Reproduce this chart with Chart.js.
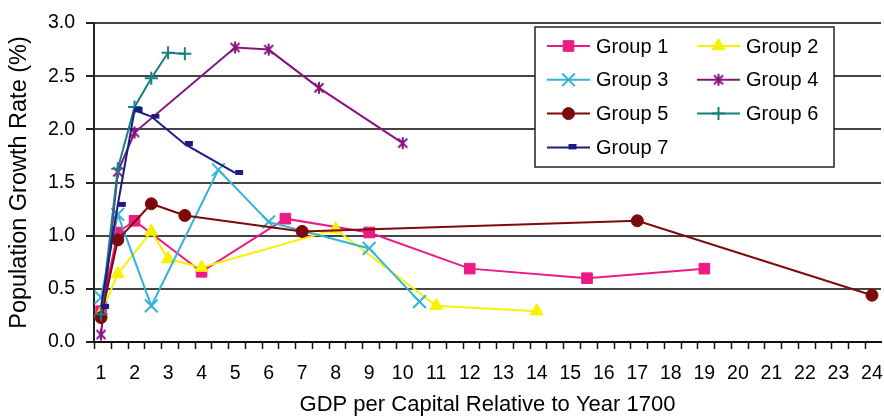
<!DOCTYPE html>
<html>
<head>
<meta charset="utf-8">
<title>Population growth and GDP per capita</title>
<script src="https://cdn.jsdelivr.net/npm/chart.js@4.4.1/dist/chart.umd.min.js"></script>
<style>
  html, body { margin: 0; padding: 0; background: #fff; }
  #growthChart { display: block; }
</style>
</head>
<body>
<canvas id="growthChart" width="884" height="416"></canvas>
<script>
// GDP per capita relative to 1700 (x) against population growth rate in % (y)
const seriesNames = ['Group 1', 'Group 2', 'Group 3', 'Group 4', 'Group 5', 'Group 6', 'Group 7'];

const group1X = [1, 1.5, 2, 4, 6.5, 9, 12, 15.5, 19];
const group1Y = [0.29, 1.03, 1.14, 0.66, 1.16, 1.03, 0.69, 0.60, 0.69];

const group2X = [1, 1.5, 2.5, 3, 4, 8, 11, 14];
const group2Y = [0.27, 0.64, 1.04, 0.78, 0.70, 1.06, 0.34, 0.29];

const group3X = [1, 1.5, 2.5, 4.5, 6, 9, 10.5];
const group3Y = [0.42, 1.20, 0.34, 1.62, 1.13, 0.88, 0.38];

const group4X = [1, 1.5, 2, 5, 6, 7.5, 10];
const group4Y = [0.07, 1.60, 1.97, 2.77, 2.75, 2.39, 1.87];

const group5X = [1, 1.5, 2.5, 3.5, 7, 17, 24];
const group5Y = [0.23, 0.96, 1.30, 1.19, 1.04, 1.14, 0.44];

const group6X = [1, 1.5, 2, 2.5, 3, 3.5];
const group6Y = [0.26, 1.63, 2.21, 2.48, 2.72, 2.71];

const group7X = [1, 1.5, 2, 2.5, 3.5, 5];
const group7Y = [0.33, 1.29, 2.18, 2.12, 1.86, 1.59];

const xTickLabels = [1, 2, 3, 4, 5, 6, 7, 8, 9, 10, 11, 12, 13, 14, 15, 16, 17, 18, 19, 20, 21, 22, 23, 24];
const yTickLabels = [0, 0.5, 1.0, 1.5, 2.0, 2.5, 3.0];

const seriesX = [group1X, group2X, group3X, group4X, group5X, group6X, group7X];
const seriesY = [group1Y, group2Y, group3Y, group4Y, group5Y, group6Y, group7Y];

// small canvases for the markers Chart.js has no built-in style for
function makeMarker(w, h, draw) {
    const c = document.createElement('canvas');
    c.width = w;
    c.height = h;
    draw(c.getContext('2d'));
    return c;
}

const asteriskMarker = makeMarker(14, 14, function(ctx) {
    ctx.strokeStyle = '#861480';
    ctx.lineWidth = 2;
    ctx.beginPath();
    ctx.moveTo(2.5, 2.5); ctx.lineTo(11.5, 11.5);
    ctx.moveTo(11.5, 2.5); ctx.lineTo(2.5, 11.5);
    ctx.moveTo(7, 1); ctx.lineTo(7, 13);
    ctx.stroke();
});

const dashMarker = makeMarker(18, 6, function(ctx) {
    ctx.fillStyle = '#1e1a84';
    ctx.fillRect(9, 0, 8, 5);
});

const seriesStyles = [
    { color: '#ec1a84', pointStyle: 'rect', radius: 7.5, pointWidth: 1 },
    { color: '#f5f200', pointStyle: 'triangle', radius: 7.5, pointWidth: 1 },
    { color: '#33b4d6', pointStyle: 'crossRot', radius: 9, pointWidth: 2 },
    { color: '#861480', pointStyle: asteriskMarker, radius: 7, pointWidth: 2 },
    { color: '#7d0a0a', pointStyle: 'circle', radius: 6, pointWidth: 1 },
    { color: '#178080', pointStyle: 'cross', radius: 6.5, pointWidth: 2 },
    { color: '#1e1a84', pointStyle: dashMarker, radius: 5, pointWidth: 1 }
];

const FONT = "'Liberation Sans', Arial, sans-serif";
Chart.defaults.font.family = FONT;
Chart.defaults.color = '#000';

const datasets = seriesNames.map(function(name, i) {
    const st = seriesStyles[i];
    return {
        label: name,
        data: seriesX[i].map(function(x, j) { return { x: x, y: seriesY[i][j] }; }),
        showLine: true,
        borderColor: st.color,
        backgroundColor: st.color,
        borderWidth: 2,
        pointStyle: st.pointStyle,
        pointRadius: st.radius,
        pointHoverRadius: st.radius,
        pointBorderWidth: st.pointWidth,
        pointBackgroundColor: st.color,
        pointBorderColor: st.color,
        clip: false,
        order: seriesNames.length - i // later groups on top
    };
});

// half-unit tick marks under the x axis
const xTickMarks = {
    id: 'xTickMarks',
    afterDraw(chart) {
        const xs = chart.scales.x;
        const ctx = chart.ctx;
        const bottom = chart.chartArea.bottom;
        ctx.save();
        ctx.strokeStyle = '#111';
        ctx.lineWidth = 1.5;
        ctx.beginPath();
        for (let v = xs.min; v <= xs.max + 1e-6; v += 0.5) {
            const px = Math.round(xs.getPixelForValue(v)) + 0.5;
            ctx.moveTo(px, bottom);
            ctx.lineTo(px, bottom + 7);
        }
        ctx.stroke();
        ctx.restore();
    }
};

// boxed two-column legend with line + marker samples
const boxedLegend = {
    id: 'boxedLegend',
    afterDraw(chart) {
        const ctx = chart.ctx;
        ctx.save();
        ctx.fillStyle = '#fff';
        ctx.strokeStyle = '#222';
        ctx.lineWidth = 1.5;
        ctx.fillRect(535, 27, 299, 140);
        ctx.strokeRect(535, 27, 299, 140);

        ctx.font = '20px ' + FONT;
        ctx.textBaseline = 'middle';
        ctx.textAlign = 'left';
        chart.data.datasets.forEach(function(ds, i) {
            const col = i % 2;
            const row = Math.floor(i / 2);
            const x0 = 547 + col * 150;
            const y = 46 + row * 33.8;

            ctx.strokeStyle = ds.borderColor;
            ctx.lineWidth = ds.borderWidth;
            ctx.beginPath();
            ctx.moveTo(x0, y);
            ctx.lineTo(x0 + 43, y);
            ctx.stroke();

            ctx.fillStyle = ds.pointBackgroundColor;
            ctx.strokeStyle = ds.pointBorderColor;
            ctx.lineWidth = ds.pointBorderWidth;
            Chart.helpers.drawPoint(ctx, {
                pointStyle: ds.pointStyle,
                radius: ds.pointRadius,
                borderWidth: ds.pointBorderWidth,
                rotation: 0
            }, x0 + 21.5, y);

            ctx.fillStyle = '#000';
            ctx.fillText(ds.label, x0 + 49, y + 1);
        });
        ctx.restore();
    }
};

new Chart(document.getElementById('growthChart'), {
    type: 'scatter',
    data: { datasets: datasets },
    plugins: [xTickMarks, boxedLegend],
    options: {
        responsive: false,
        animation: false,
        events: [],
        layout: {
            autoPadding: false, // keep the plot edge fixed, end markers may overhang
            padding: { top: 23, right: 3, bottom: 0, left: 0 }
        },
        plugins: {
            legend: { display: false },
            tooltip: { enabled: false }
        },
        scales: {
            x: {
                type: 'linear',
                min: 0.79,
                max: 24.27,
                afterBuildTicks: function(axis) {
                    axis.ticks = xTickLabels.map(function(v) { return { value: v }; });
                },
                afterFit: function(axis) {
                    axis.height = 74;
                    // end labels fit inside the canvas; no extra side padding needed
                    axis.paddingLeft = 0;
                    axis.paddingRight = 0;
                },
                // real tick marks come from xTickMarks; this only spaces the labels
                grid: {
                    display: true,
                    drawOnChartArea: false,
                    drawTicks: true,
                    tickLength: 17,
                    tickColor: 'rgba(0,0,0,0)'
                },
                border: { display: true, color: '#111', width: 2 },
                ticks: {
                    autoSkip: false,
                    maxRotation: 0,
                    padding: 3,
                    font: { size: 19.5 }
                },
                title: {
                    display: true,
                    text: 'GDP per Capital Relative to Year 1700',
                    font: { size: 22, lineHeight: 1 },
                    padding: { top: 0, bottom: 0 }
                }
            },
            y: {
                min: 0,
                max: 3,
                afterBuildTicks: function(axis) {
                    axis.ticks = yTickLabels.map(function(v) { return { value: v }; });
                },
                afterFit: function(axis) { axis.width = 94; },
                grid: {
                    color: '#444',
                    lineWidth: 2,
                    drawTicks: true,
                    tickLength: 8,
                    tickColor: '#222'
                },
                border: { display: true, color: '#222', width: 2 },
                ticks: {
                    padding: 11,
                    font: { size: 19.5 },
                    callback: function(v) { return Number(v).toFixed(1); }
                },
                title: {
                    display: true,
                    text: 'Population Growth Rate (%)',
                    font: { size: 23.5, lineHeight: 1 },
                    padding: { top: 8, bottom: 0 }
                }
            }
        }
    }
});
</script>
</body>
</html>
